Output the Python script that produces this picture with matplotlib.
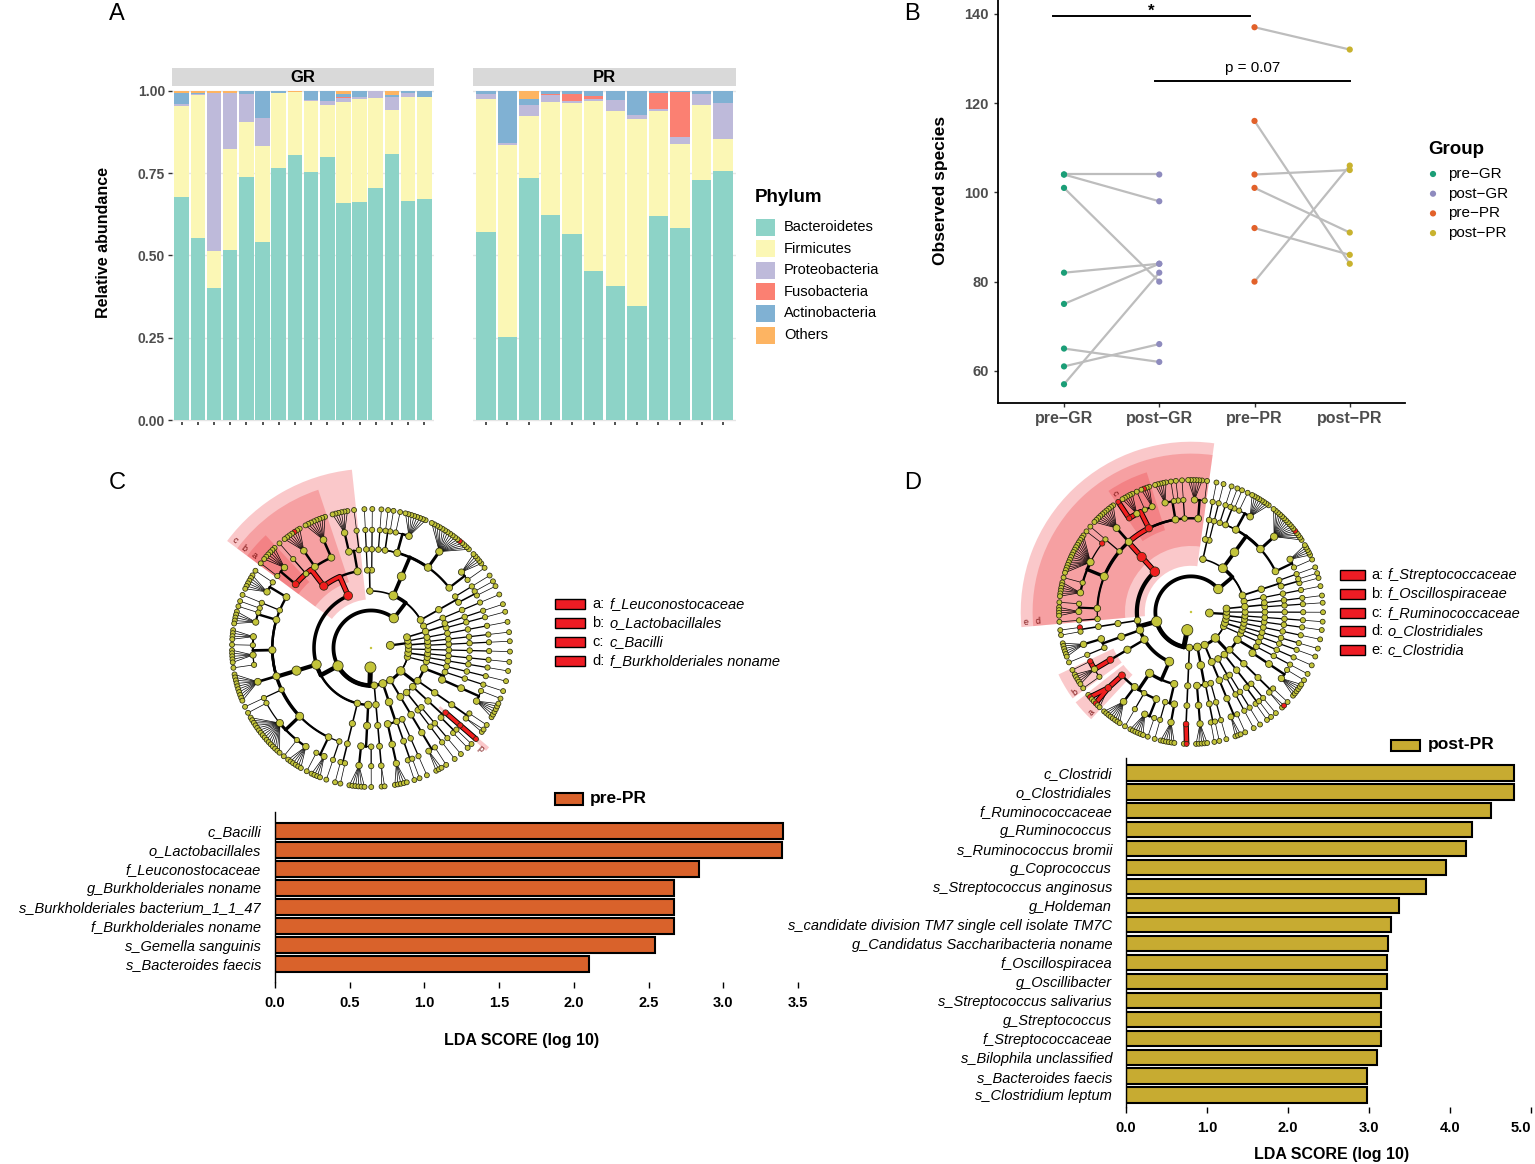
import numpy as np
import matplotlib
matplotlib.use('Agg')
import matplotlib.pyplot as plt
from matplotlib.patches import Rectangle, Wedge

plt.rcParams['font.family'] = ['Liberation Sans', 'DejaVu Sans']

# ---------------------------------------------------------------- data
# Panel A: relative abundance per sample (stack order bottom -> top)
phyla = ['Bacteroidetes', 'Firmicutes', 'Proteobacteria', 'Fusobacteria', 'Actinobacteria', 'Others']
phyla_colors = ['#8DD3C7', '#FBF7B5', '#BEBADA', '#FB8072', '#80B1D3', '#FDB462']

gr_bacteroidetes = [0.678, 0.554, 0.400, 0.516, 0.740, 0.541, 0.766, 0.804, 0.753, 0.799, 0.660, 0.664, 0.705, 0.809, 0.667, 0.671]
gr_firmicutes = [0.277, 0.434, 0.114, 0.309, 0.165, 0.291, 0.229, 0.194, 0.216, 0.159, 0.305, 0.311, 0.275, 0.134, 0.316, 0.311]
gr_proteobacteria = [0.005, 0.004, 0.481, 0.170, 0.085, 0.087, 0.000, 0.000, 0.003, 0.013, 0.013, 0.008, 0.020, 0.038, 0.010, 0.000]
gr_fusobacteria = [0.0, 0.0, 0.0, 0.0, 0.0, 0.0, 0.0, 0.0, 0.0, 0.0, 0.005, 0.0, 0.0, 0.0, 0.0, 0.0]
gr_actinobacteria = [0.033, 0.002, 0.000, 0.000, 0.010, 0.081, 0.005, 0.000, 0.028, 0.029, 0.007, 0.017, 0.000, 0.007, 0.007, 0.018]
gr_others = [0.007, 0.006, 0.005, 0.005, 0.0, 0.0, 0.0, 0.002, 0.0, 0.0, 0.010, 0.0, 0.0, 0.012, 0.0, 0.0]

pr_bacteroidetes = [0.570, 0.252, 0.734, 0.624, 0.565, 0.452, 0.406, 0.347, 0.621, 0.585, 0.730, 0.758]
pr_firmicutes = [0.406, 0.585, 0.191, 0.341, 0.398, 0.517, 0.534, 0.567, 0.318, 0.254, 0.227, 0.095]
pr_proteobacteria = [0.015, 0.005, 0.032, 0.023, 0.006, 0.007, 0.034, 0.013, 0.007, 0.020, 0.034, 0.109]
pr_fusobacteria = [0.0, 0.0, 0.0, 0.004, 0.022, 0.008, 0.0, 0.0, 0.047, 0.137, 0.0, 0.0]
pr_actinobacteria = [0.009, 0.158, 0.020, 0.008, 0.009, 0.016, 0.026, 0.073, 0.007, 0.004, 0.009, 0.038]
pr_others = [0.0, 0.0, 0.023, 0.0, 0.0, 0.0, 0.0, 0.0, 0.0, 0.0, 0.0, 0.0]

# Panel B: observed species, paired samples
groups = ['pre\u2212GR', 'post\u2212GR', 'pre\u2212PR', 'post\u2212PR']
group_colors = ['#1B9E77', '#8E8BBE', '#E2612A', '#C8B22E']
gr_pre = [104, 104, 101, 82, 75, 65, 61, 57]
gr_post = [104, 98, 80, 84, 84, 62, 66, 82]
pr_pre = [137, 116, 104, 101, 92, 80]
pr_post = [132, 84, 105, 91, 86, 106]

# Panel C: LDA (pre-PR)
lda_c_labels = ['c_Bacilli', 'o_Lactobacillales', 'f_Leuconostocaceae', 'g_Burkholderiales noname',
                's_Burkholderiales bacterium_1_1_47', 'f_Burkholderiales noname',
                's_Gemella sanguinis', 's_Bacteroides faecis']
lda_c_values = [3.40, 3.39, 2.84, 2.67, 2.67, 2.67, 2.54, 2.10]
lda_c_ticks = [0.0, 0.5, 1.0, 1.5, 2.0, 2.5, 3.0, 3.5]

# Panel D: LDA (post-PR)
lda_d_labels = ['c_Clostridi', 'o_Clostridiales', 'f_Ruminococcaceae', 'g_Ruminococcus',
                's_Ruminococcus bromii', 'g_Coprococcus', 's_Streptococcus anginosus', 'g_Holdeman',
                's_candidate division TM7 single cell isolate TM7C', 'g_Candidatus Saccharibacteria noname',
                'f_Oscillospiracea', 'g_Oscillibacter', 's_Streptococcus salivarius', 'g_Streptococcus',
                'f_Streptococcaceae', 's_Bilophila unclassified', 's_Bacteroides faecis', 's_Clostridium leptum']
lda_d_values = [4.79, 4.79, 4.51, 4.27, 4.20, 3.95, 3.70, 3.37, 3.27, 3.24, 3.22, 3.22, 3.15, 3.15, 3.15, 3.10, 2.98, 2.97]
lda_d_ticks = [0.0, 1.0, 2.0, 3.0, 4.0, 5.0]

# Cladogram topology (int n = single lineage down to genus carrying n species)
ARCHAEA = [1, [1, 1], 1, [[1, 1]]]
BACTEROIDETES = [
    1,
    [[[1, 1], 1]],
    [[[1, 5], [{'k': 'Bacteroides', 'c': 16, 's': [4]}], [8, 1], [1, 1], 1]],
    [1, 1],
]
CLOSTRIDIA = {'k': 'Clostridia', 'c': [{'k': 'Clostridiales', 'c': [
    [1, 6], 1, [1, 1, 5],
    {'k': 'Ruminococcaceae', 'c': [{'k': 'Clostridium', 'c': 4, 's': [2]}, 1, 5,
                                   {'k': 'Ruminococcus', 'c': 1, 's': [0]}]},
    [10], 1,
    [{'k': 'Coprococcus', 'c': 1}, 16, 1, 6],
    [1, 4], 1]}]}
ERYSIPELOTRICHIA = [[[{'k': 'Holdemania', 'c': 1}, 1]]]
NEGATIVICUTES = [[[6], 1]]
OSCILLO = [[{'k': 'Oscillospiraceae', 'c': [{'k': 'Oscillibacter', 'c': 1}, 5, 1]}]]
BACILLI_C = {'k': 'Bacilli', 'c': [
    [1, [6]],
    {'k': 'Lactobacillales', 'c': [[8], [{'k': 'Gemella', 'c': 7, 's': [2]}], 1,
                                   {'k': 'Leuconostocaceae', 'c': [6, 1]}]}]}
BACILLI_D = {'k': 'Bacilli', 'c': [
    {'k': 'Lactobacillales', 'c': [{'k': 'Streptococcaceae', 'c': [{'k': 'Streptococcus', 'c': 7, 's': [1, 4]}]},
                                   [8], 1, [6, 1]]},
    [1, [6]]]}
TM7 = {'k': 'TM7', 'c': [[[[{'k': 'Saccharibacteria', 'c': 2, 's': [1]}]]]]}
ACTINO = [[[[5]], [[1, 1]], 1]]
FUSO = [[[[3, 1]]]]
PROTEO = [
    [1, 1],
    [[[1, 1], {'k': 'Burkholderiales_noname', 'c': 1}]],
    [[[{'k': 'Bilophila', 'c': 2, 's': [1]}, 1]]],
    [[[6, 1]], 1],
]
VERRUCO = 1
CYANO = [1, 1]

TREE_C = [[BACTEROIDETES, [BACILLI_C, CLOSTRIDIA, ERYSIPELOTRICHIA, NEGATIVICUTES],
           TM7, ACTINO, FUSO, PROTEO, VERRUCO, CYANO], ARCHAEA]
TREE_D = [[BACTEROIDETES, [CLOSTRIDIA, ERYSIPELOTRICHIA, NEGATIVICUTES, OSCILLO, BACILLI_D],
           TM7, ACTINO, FUSO, PROTEO, VERRUCO, CYANO], ARCHAEA]

clado_c_red = ['Bacilli', 'Lactobacillales', 'Leuconostocaceae']
clado_c_chain = ['Burkholderiales_noname']
clado_c_species = ['Gemella', 'Bacteroides']
clado_c_wedges = [('Leuconostocaceae', 'a'), ('Lactobacillales', 'b'), ('Bacilli', 'c'), ('Burkholderiales_noname', 'd')]
clado_c_legend = [('a:', 'f_Leuconostocaceae'), ('b:', 'o_Lactobacillales'), ('c:', 'c_Bacilli'),
                  ('d:', 'f_Burkholderiales noname')]

clado_d_red = ['Clostridia', 'Clostridiales', 'Ruminococcaceae', 'Ruminococcus', 'Coprococcus', 'Holdemania',
               'Saccharibacteria', 'Oscillospiraceae', 'Oscillibacter', 'Streptococcus', 'Streptococcaceae']
clado_d_chain = []
clado_d_species = ['Ruminococcus', 'Streptococcus', 'Saccharibacteria', 'Bilophila', 'Bacteroides', 'Clostridium']
clado_d_wedges = [('Streptococcaceae', 'a'), ('Oscillospiraceae', 'b'), ('Ruminococcaceae', 'c'),
                  ('Clostridiales', 'd'), ('Clostridia', 'e')]
clado_d_legend = [('a:', 'f_Streptococcaceae'), ('b:', 'f_Oscillospiraceae'), ('c:', 'f_Ruminococcaceae'),
                  ('d:', 'o_Clostridiales'), ('e:', 'c_Clostridia')]

# ---------------------------------------------------------------- figure
W, H = 1535, 1164
fig = plt.figure(figsize=(W / 100, H / 100), dpi=100)


def px_axes(x0, y0, x1, y1):
    return fig.add_axes([x0 / W, 1 - y1 / H, (x1 - x0) / W, (y1 - y0) / H])


ov = px_axes(0, 0, W, H)
ov.set_xlim(0, W)
ov.set_ylim(H, 0)
ov.axis('off')
ov.patch.set_alpha(0)

GRAY = '#4D4D4D'

# ---------------------------------------------------------------- Panel A
gr_stack = [gr_bacteroidetes, gr_firmicutes, gr_proteobacteria, gr_fusobacteria, gr_actinobacteria, gr_others]
pr_stack = [pr_bacteroidetes, pr_firmicutes, pr_proteobacteria, pr_fusobacteria, pr_actinobacteria, pr_others]

for (x0, x1, stack, title, showy) in [(172, 434, gr_stack, 'GR', True), (473, 736, pr_stack, 'PR', False)]:
    ax = px_axes(x0, 88, x1, 422)
    n = len(stack[0])
    xs = np.arange(1, n + 1)
    bottom = np.zeros(n)
    for vals, col in zip(stack, phyla_colors):
        ax.bar(xs, vals, bottom=bottom, width=0.9, color=col, edgecolor='none', zorder=2)
        bottom = bottom + np.array(vals)
    ax.set_xlim(0.4, n + 0.6)
    ax.set_ylim(-0.006, 1.009)
    for s in ax.spines.values():
        s.set_visible(False)
    ax.set_yticks([0, 0.25, 0.5, 0.75, 1.0])
    ax.yaxis.grid(True, color='#E6E6E6', lw=1.0, zorder=0)
    ax.set_axisbelow(True)
    ax.set_xticks(xs)
    ax.set_xticklabels([])
    ax.tick_params(axis='x', length=2.5, width=1.2, color='#333333')
    if showy:
        ax.set_yticklabels(['0.00', '0.25', '0.50', '0.75', '1.00'], fontsize=10, fontweight='bold', color=GRAY)
        ax.tick_params(axis='y', length=3, width=1, color='#333333', pad=2)
    else:
        ax.set_yticklabels([])
        ax.tick_params(axis='y', length=0)
    ov.add_patch(Rectangle((x0, 68), x1 - x0, 18, facecolor='#D9D9D9', edgecolor='none'))
    ov.text((x0 + x1) / 2, 77, title, ha='center', va='center', fontsize=12, fontweight='bold')

ov.text(103, 243, 'Relative abundance', rotation=90, ha='center', va='center', fontsize=11.5, fontweight='bold')
ov.text(755, 198, 'Phylum', ha='left', va='center', fontsize=13.5, fontweight='bold')
for i, (name, col) in enumerate(zip(phyla, phyla_colors)):
    yc = 227 + i * 21.6
    ov.add_patch(Rectangle((756, yc - 8.5), 19, 17, facecolor=col, edgecolor='none'))
    ov.text(784, yc, name, ha='left', va='center', fontsize=10.5)

# ---------------------------------------------------------------- Panel B
axB = px_axes(998, 0, 1405, 403)
pairs = [(1, 2, gr_pre, gr_post), (3, 4, pr_pre, pr_post)]
for xa, xb, pre, post in pairs:
    for a, b in zip(pre, post):
        axB.plot([xa, xb], [a, b], color='#BDBDBD', lw=1.6, zorder=1)
for xi, vals, col in [(1, gr_pre, group_colors[0]), (2, gr_post, group_colors[1]),
                      (3, pr_pre, group_colors[2]), (4, pr_post, group_colors[3])]:
    axB.scatter([xi] * len(vals), vals, s=20, color=col, zorder=3, edgecolors='none')
axB.set_xlim(0.307, 4.58)
axB.set_ylim(52.8, 143.1)
axB.set_xticks([1, 2, 3, 4])
axB.set_xticklabels(groups, fontsize=11.5, fontweight='bold', color=GRAY)
axB.set_yticks([60, 80, 100, 120, 140])
axB.set_yticklabels(['60', '80', '100', '120', '140'], fontsize=10.5, fontweight='bold', color=GRAY)
axB.tick_params(length=3, width=1, color='#333333')
axB.tick_params(axis='x', pad=3)
for side in ['top', 'right']:
    axB.spines[side].set_visible(False)
for side in ['left', 'bottom']:
    axB.spines[side].set_linewidth(1.3)
axB.plot([0.88, 2.95], [139.6, 139.6], color='black', lw=1.4, clip_on=False)
axB.text(1.91, 140.6, '*', ha='center', va='center', fontsize=12, fontweight='bold', clip_on=False)
axB.plot([1.955, 4.0], [125.0, 125.0], color='black', lw=1.4)
axB.text(2.98, 126.2, 'p = 0.07', ha='center', va='bottom', fontsize=11)
ov.text(940, 190, 'Observed species', rotation=90, ha='center', va='center', fontsize=12.5, fontweight='bold')
ov.text(1428, 149, 'Group', ha='left', va='center', fontsize=13.5, fontweight='bold')
for i, (g, col) in enumerate(zip(groups, group_colors)):
    yc = 174 + i * 19.7
    ov.scatter([1433], [yc], s=20, color=col, edgecolors='none')
    ov.text(1448, yc, g, ha='left', va='center', fontsize=11)

# ---------------------------------------------------------------- cladograms
RADII = [0.0, 0.14, 0.27, 0.41, 0.56, 0.71, 0.85, 1.0]
GAP = {0: 3.4, 1: 3.4, 2: 3.0, 3: 2.6, 4: 2.2, 5: 1.8, 6: 1.0}
NODE_COL = '#C3C43A'
RED = '#F01E1E'


def build(spec, depth):
    if isinstance(spec, dict):
        node = build(spec['c'], depth)
        node['key'] = spec['k']
        node['rs'] = spec.get('s', [])
        return node
    node = {'d': depth, 'kids': [], 'key': None, 'rs': [], 'red': False}
    if isinstance(spec, int):
        if depth < 6:
            node['kids'] = [build(spec, depth + 1)]
        elif depth == 6:
            node['kids'] = [{'d': 7, 'kids': [], 'key': None, 'rs': [], 'red': False} for _ in range(spec)]
    else:
        node['kids'] = [build(s, depth + 1) for s in spec]
    return node


def walk(node):
    yield node
    for k in node['kids']:
        yield from walk(k)


def place_units(node, st):
    if not node['kids']:
        node['u'] = st['pos']
        node['n'] = 1
        return
    for i, k in enumerate(node['kids']):
        if i > 0:
            st['pos'] += GAP[node['d']]
        place_units(k, st)
    node['n'] = sum(k['n'] for k in node['kids'])


def set_angles(node, off, scale):
    if not node['kids']:
        node['t'] = off + node['u'] * scale
        node['tmin'] = node['tmax'] = node['t']
    else:
        for k in node['kids']:
            set_angles(k, off, scale)
        node['t'] = float(np.mean([k['t'] for k in node['kids']]))
        node['tmin'] = node['kids'][0]['tmin']
        node['tmax'] = node['kids'][-1]['tmax']


def pxy(t, r):
    a = np.deg2rad(t)
    return r * np.cos(a), r * np.sin(a)


def lw_of(n):
    return min(3.6, 0.5 + 0.6 * np.log1p(n))


def draw_cladogram(cx, cy, Rpx, spec, anchor_key, anchor_angle, red_keys, chain_keys, species_keys, wedges):
    S = 205
    ax = px_axes(cx - S, cy - S, cx + S, cy + S)
    lim = S / Rpx
    ax.set_xlim(-lim, lim)
    ax.set_ylim(-lim, lim)
    ax.axis('off')
    ax.patch.set_alpha(0)
    root = build(spec, 0)
    st = {'pos': 0.0}
    place_units(root, st)
    total = st['pos'] + GAP[0]
    scale = 360.0 / total
    keymap = {nd['key']: nd for nd in walk(root) if nd['key']}
    a = keymap[anchor_key]
    while a['kids']:
        a = a['kids'][0]
    off = anchor_angle - a['u'] * scale
    set_angles(root, off, scale)
    for k in red_keys:
        keymap[k]['red'] = True
    for k in chain_keys:
        for nd in walk(keymap[k]):
            nd['red'] = True
    for k in species_keys:
        g = keymap[k]
        while g['d'] < 6:
            g = g['kids'][0]
        for i in keymap[k]['rs']:
            g['kids'][i]['red'] = True
    # shaded clades
    for k, letter in wedges:
        nd = keymap[k]
        t1 = nd['tmin'] - 0.7 * scale
        t2 = nd['tmax'] + 0.7 * scale
        rin = RADII[nd['d']] - 0.06
        rout = 1.0 + 0.09 * (6 - nd['d']) + 0.02
        ax.add_patch(Wedge((0, 0), rout, t1, t2, width=rout - rin,
                           facecolor=(0.93, 0.18, 0.2, 0.26), edgecolor='none', zorder=0))
        lx, ly = pxy(t2 - 1.6, rout - 0.04)
        ax.text(lx, ly, letter, fontsize=6.5, color='#7A1010', ha='center', va='center',
                rotation=t2 - 180, zorder=1)
    # edges
    for nd in walk(root):
        if nd['d'] == 0 or not nd['kids']:
            continue
        rp = RADII[nd['d']]
        rc = RADII[nd['d'] + 1]
        if nd['d'] + 1 == 7:
            for s in nd['kids']:
                x0, y0 = pxy(nd['t'], rp)
                x1, y1 = pxy(s['t'], rc)
                ax.plot([x0, x1], [y0, y1], color='black', lw=0.5, zorder=2)
                if nd['red'] and s['red']:
                    ax.plot([x0, x1], [y0, y1], color='black', lw=4.0, zorder=2.1, solid_capstyle='butt')
                    ax.plot([x0, x1], [y0, y1], color=RED, lw=2.6, zorder=2.2, solid_capstyle='butt')
        else:
            x0, y0 = pxy(nd['t'], rp)
            x1, y1 = pxy(nd['t'], rc)
            ax.plot([x0, x1], [y0, y1], color='black', lw=lw_of(nd['n']), zorder=2, solid_capstyle='round')
            for k in nd['kids']:
                if abs(k['t'] - nd['t']) > 1e-6:
                    tt = np.linspace(nd['t'], k['t'], 80)
                    ax.plot(rc * np.cos(np.deg2rad(tt)), rc * np.sin(np.deg2rad(tt)), color='black',
                            lw=lw_of(k['n']), zorder=2, solid_capstyle='round')
                if nd['red'] and k['red']:
                    tt = np.linspace(nd['t'], k['t'], 30)
                    xs = np.concatenate([[x0], rc * np.cos(np.deg2rad(tt))])
                    ys = np.concatenate([[y0], rc * np.sin(np.deg2rad(tt))])
                    ax.plot(xs, ys, color='black', lw=4.0, zorder=2.1, solid_capstyle='butt')
                    ax.plot(xs, ys, color=RED, lw=2.6, zorder=2.2, solid_capstyle='butt')
    # nodes
    xs, ys, ss, cs = [], [], [], []
    for nd in walk(root):
        if nd['d'] == 0:
            continue
        x, y = pxy(nd['t'], RADII[nd['d']])
        dpx = 4.3 + 0.95 * np.log1p(nd['n']) + 0.3 * (7 - nd['d'])
        xs.append(x)
        ys.append(y)
        ss.append((dpx * 0.72) ** 2)
        cs.append(RED if nd['red'] else NODE_COL)
    ax.scatter(xs, ys, s=ss, c=cs, edgecolors='#2B2B10', linewidths=0.55, zorder=3)
    ax.scatter([0], [0], s=3, c=[NODE_COL], zorder=3, edgecolors='none')
    return ax


draw_cladogram(371, 648, 139, TREE_C, 'Bacilli', 97, clado_c_red, clado_c_chain, clado_c_species, clado_c_wedges)
draw_cladogram(1191, 612, 132, TREE_D, 'Clostridia', 83, clado_d_red, clado_d_chain, clado_d_species, clado_d_wedges)

for i, (lab, name) in enumerate(clado_c_legend):
    yc = 604 + i * 19
    ov.add_patch(Rectangle((555, yc - 5), 30, 10, facecolor='#EE1C24', edgecolor='black', lw=1.0))
    ov.text(592, yc, lab, ha='left', va='center', fontsize=10.5)
    ov.text(610, yc, name, ha='left', va='center', fontsize=10.5, style='italic')
for i, (lab, name) in enumerate(clado_d_legend):
    yc = 575 + i * 18.8
    ov.add_patch(Rectangle((1340, yc - 5), 25, 10, facecolor='#EE1C24', edgecolor='black', lw=1.0))
    ov.text(1371, yc, lab, ha='left', va='center', fontsize=10.5)
    ov.text(1388, yc, name, ha='left', va='center', fontsize=10.5, style='italic')


# ---------------------------------------------------------------- LDA bars
def lda_axes(x0, x1, ytop, ybot, row0, drow, labels, values, ticks, xmax, color, ticklabels):
    ax = px_axes(x0, ytop, x1, ybot)
    n = len(values)
    rows = np.arange(n)
    ax.barh(rows, values, height=0.8, color=color, edgecolor='black', lw=1.5, zorder=2)
    ax.set_xlim(0, xmax)
    ax.set_ylim((ybot - row0) / drow, (ytop - row0) / drow)
    ax.set_yticks(rows)
    ax.set_yticklabels(labels, fontsize=10.5, style='italic')
    ax.tick_params(axis='y', length=0, pad=10)
    ax.set_xticks(ticks)
    tl = ax.set_xticklabels(ticklabels, fontsize=10.5, fontweight='bold')
    ax.tick_params(axis='x', length=4, width=1, pad=6)
    for side in ['top', 'right', 'bottom']:
        ax.spines[side].set_visible(False)
    ax.spines['left'].set_linewidth(1.0)
    return ax, tl


lda_axes(275, 798, 812, 982, 831, 19.0, lda_c_labels, lda_c_values, lda_c_ticks, 3.5, '#D9622B',
         ['%.1f' % t for t in lda_c_ticks])
axD, tlD = lda_axes(1126, 1531, 758, 1107, 773, 18.94, lda_d_labels, lda_d_values, lda_d_ticks, 5.0, '#C7AB31',
                    ['%.1f' % t for t in lda_d_ticks])
tlD[-1].set_horizontalalignment('right')

ov.text(522, 1041, 'LDA SCORE (log 10)', ha='center', va='center', fontsize=11.5, fontweight='bold')
ov.text(1332, 1155, 'LDA SCORE (log 10)', ha='center', va='center', fontsize=11.5, fontweight='bold')
ov.add_patch(Rectangle((555, 793), 28, 12, facecolor='#D9622B', edgecolor='black', lw=1.5))
ov.text(590, 798, 'pre-PR', ha='left', va='center', fontsize=12.5, fontweight='bold')
ov.add_patch(Rectangle((1391, 740), 29, 11, facecolor='#C7AB31', edgecolor='black', lw=1.5))
ov.text(1428, 745, 'post-PR', ha='left', va='center', fontsize=12.5, fontweight='bold')

# ---------------------------------------------------------------- panel letters
for letter, x, y in [('A', 117, 14), ('B', 912, 14), ('C', 117, 483), ('D', 913, 483)]:
    ov.text(x, y, letter, ha='center', va='center', fontsize=17)

fig.savefig('out.png', dpi=100)
